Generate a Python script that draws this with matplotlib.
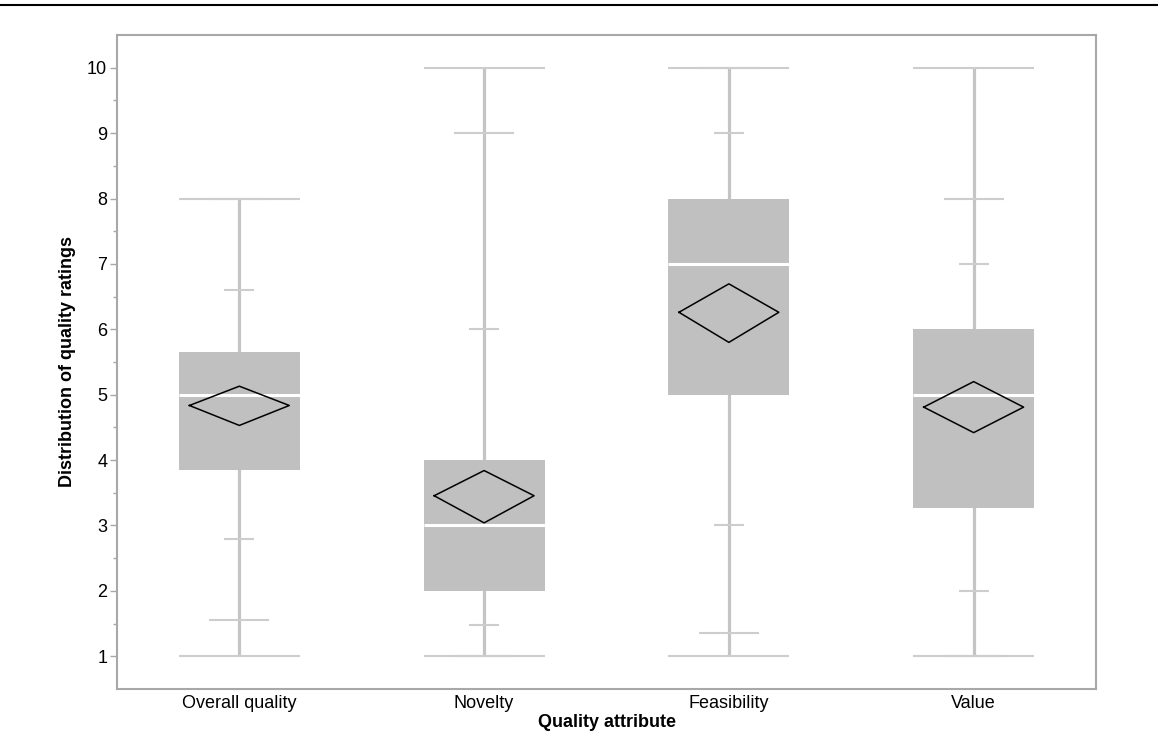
import numpy as np
import matplotlib
matplotlib.use('Agg')
import matplotlib.pyplot as plt
from matplotlib.lines import Line2D

plt.rcParams['font.family'] = ['Liberation Sans', 'DejaVu Sans']

# Quantile box plot values
categories = ['Overall quality', 'Novelty', 'Feasibility', 'Value']
mins = [1.0, 1.0, 1.0, 1.0]
q025 = [1.55, 1.0, 1.35, 1.0]
q10 = [2.8, 1.48, 3.0, 2.0]
q25 = [3.85, 2.0, 5.0, 3.26]
medians = [5.0, 3.0, 7.0, 5.0]
q75 = [5.66, 4.0, 8.0, 6.0]
q90 = [6.6, 6.0, 9.0, 7.0]
q975 = [8.0, 9.0, 10.0, 8.0]
maxs = [8.0, 10.0, 10.0, 10.0]
means = [4.835, 3.455, 6.26, 4.81]
ci_low = [4.53, 3.04, 5.80, 4.42]
ci_high = [5.13, 3.84, 6.695, 5.20]

box_half = 0.247
mid_half = 0.1226
short_half = 0.0613
dia_half = 0.204

fig = plt.figure(figsize=(11.58, 7.39), dpi=100)
ax = fig.add_axes([0.1010, 0.0677, 0.8455, 0.8849])

x = np.arange(len(categories))
whisk_col = '#c4c4c4'
cap_col = '#cdcdcd'
box_col = '#c0c0c0'

for i in x:
    # main whisker line from min to max
    ax.vlines(i, mins[i], maxs[i], color=whisk_col, lw=2.3, zorder=1)
    # min / max caps
    ax.hlines([mins[i], maxs[i]], i - box_half, i + box_half, color=cap_col, lw=1.5, zorder=1)
    # 2.5% / 97.5% ticks
    ax.hlines([q025[i], q975[i]], i - mid_half, i + mid_half, color=cap_col, lw=1.5, zorder=1)
    # 10% / 90% ticks
    ax.hlines([q10[i], q90[i]], i - short_half, i + short_half, color=cap_col, lw=1.5, zorder=1)
    # box
    ax.bar(i, q75[i] - q25[i], bottom=q25[i], width=2 * box_half, color=box_col,
           edgecolor='none', zorder=2)
    # median
    ax.hlines(medians[i], i - box_half, i + box_half, color='white', lw=2.2, zorder=3)
    # means diamond
    dx = [i - dia_half, i, i + dia_half, i, i - dia_half]
    dy = [means[i], ci_high[i], means[i], ci_low[i], means[i]]
    ax.plot(dx, dy, color='black', lw=1.1, zorder=4)

ax.set_xlim(-0.5, len(categories) - 0.5)
ax.set_ylim(0.5, 10.5)
ax.set_xticks(x)
ax.set_xticklabels(categories, fontsize=13)
ax.set_yticks(np.arange(1, 11))
ax.set_yticks(np.arange(1.5, 10.5, 1), minor=True)
ax.tick_params(axis='y', which='major', length=5, width=1, color='#a8a8a8',
               labelsize=13, pad=2)
ax.tick_params(axis='y', which='minor', length=3, width=1, color='#a8a8a8')
ax.tick_params(axis='x', length=0, pad=4)

for sp in ax.spines.values():
    sp.set_color('#a8a8a8')
    sp.set_linewidth(1.5)

ax.set_xlabel('Quality attribute', fontsize=13, fontweight='bold', labelpad=2)
ax.set_ylabel('Distribution of quality ratings', fontsize=13, fontweight='bold', labelpad=8)

# black rule across the top of the figure
fig.add_artist(Line2D([0, 1], [1 - 4.5 / 739, 1 - 4.5 / 739], color='black', lw=1.5,
                      transform=fig.transFigure))

fig.savefig('out.png', dpi=100)
